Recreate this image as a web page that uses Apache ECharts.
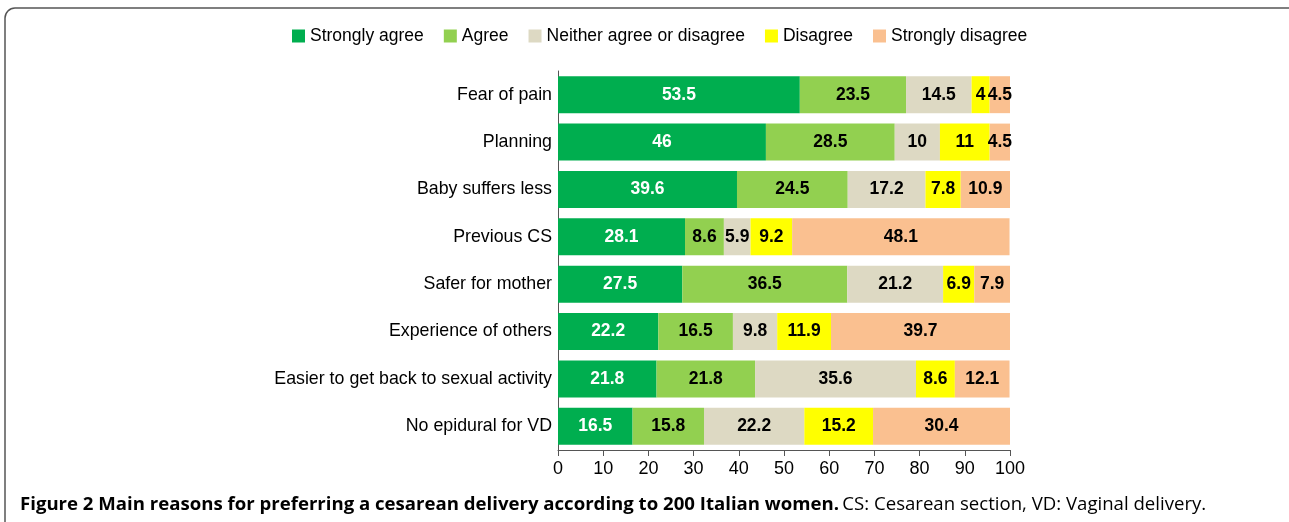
<!DOCTYPE html>
<html><head><meta charset="utf-8">
<script src="https://cdn.jsdelivr.net/npm/echarts@6/dist/echarts.min.js"></script>
<style>html,body{margin:0;padding:0;background:#fff}#c{width:1289px;height:522px}</style>
</head><body><div id="c"></div>
<script>
const categories = ["Fear of pain","Planning","Baby suffers less","Previous CS","Safer for mother","Experience of others","Easier to get back to sexual activity","No epidural for VD"];
const seriesNames = ["Strongly agree","Agree","Neither agree or disagree","Disagree","Strongly disagree"];
const stronglyAgree = [53.5,46,39.6,28.1,27.5,22.2,21.8,16.5];
const agree = [23.5,28.5,24.5,8.6,36.5,16.5,21.8,15.8];
const neither = [14.5,10,17.2,5.9,21.2,9.8,35.6,22.2];
const disagree = [4,11,7.8,9.2,6.9,11.9,8.6,15.2];
const stronglyDisagree = [4.5,4.5,10.9,48.1,7.9,39.7,12.1,30.4];
const xTicks = [0,10,20,30,40,50,60,70,80,90,100];
const colors = ["#00ae4f","#92d050","#ddd9c3","#ffff00","#fac090"];
const labelColors = ["#ffffff","#000000","#000000","#000000","#000000"];
const data = [stronglyAgree, agree, neither, disagree, stronglyDisagree];

const chart = echarts.init(document.getElementById('c'));
const font = "'Liberation Sans', Arial, sans-serif";
chart.setOption({
  animation:false,
  textStyle:{fontFamily:font},
  legend:{
    top:22, left:287, itemWidth:13, itemHeight:13, itemGap:20,
    icon:'rect',
    textStyle:{fontSize:17.5,color:'#000',fontFamily:font},
    data:seriesNames
  },
  grid:{left:558,right:279,top:71,bottom:72,containLabel:false},
  xAxis:{
    type:'value',min:0,max:100,interval:10,
    axisLine:{show:true,lineStyle:{color:'#555'}},
    axisTick:{show:true,length:6,lineStyle:{color:'#555'}},
    splitLine:{show:false},
    axisLabel:{fontSize:18,color:'#000',margin:10,fontFamily:font,
      formatter:v=>String(xTicks[xTicks.indexOf(v)])}
  },
  yAxis:{
    type:'category',inverse:true,data:categories,
    axisLine:{show:true,lineStyle:{color:'#555'}},
    axisTick:{show:false},
    axisLabel:{fontSize:17.8,color:'#000',margin:6,fontFamily:font}
  },
  series: seriesNames.map((n,i)=>({
    name:n,type:'bar',stack:'s',data:data[i],barCategoryGap:'22%',
    itemStyle:{color:colors[i]},
    label:{show:true,position:'inside',color:labelColors[i],fontWeight:'bold',fontSize:17.5,fontFamily:font}
  })),
  color:colors,
  graphic:[
    {type:'rect',shape:{x:5,y:8,width:1300,height:540,r:10},style:{fill:'none',stroke:'#555',lineWidth:1.5},silent:true},
    {type:'text',left:20,top:495,style:{
      rich:{b:{fontWeight:'bold',fontSize:18.6,fontFamily:"'Open Sans', sans-serif",fill:'#000'},
            n:{fontSize:18.6,fontFamily:"'Open Sans', sans-serif",fill:'#000'}},
      text:'{b|Figure 2 Main reasons for preferring a cesarean delivery according to 200 Italian women.} {n|CS: Cesarean section, VD: Vaginal delivery.}'
    }}
  ]
});
</script></body></html>
